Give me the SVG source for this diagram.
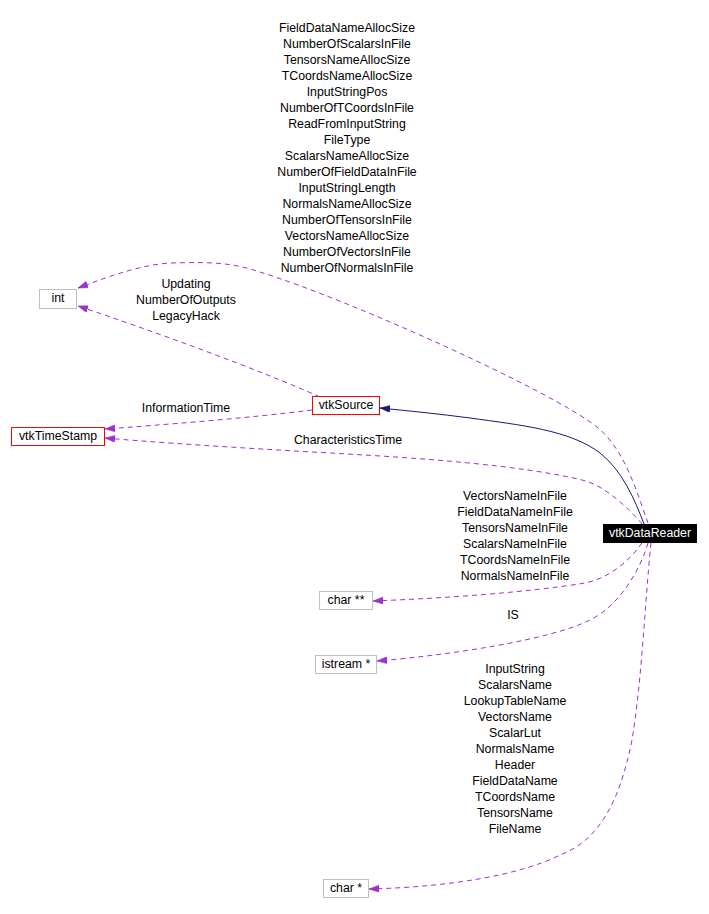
<svg xmlns="http://www.w3.org/2000/svg" width="709" height="914" viewBox="0 0 709 914">
<style>
text{font-family:"Liberation Sans",Arial,sans-serif;font-size:12.3px;fill:#000;text-anchor:middle}
.box{fill:#fff;stroke:#bfbfbf;stroke-width:1}
.red{fill:#fff;stroke:#ff0000;stroke-width:1}
.dash{fill:none;stroke:#9a32cd;stroke-width:1;stroke-dasharray:5,4}
.inh{fill:none;stroke:#191970;stroke-width:1}
</style>
<defs>
<marker id="ap" markerUnits="userSpaceOnUse" viewBox="0 0 10 7" refX="10" refY="3.5" markerWidth="10" markerHeight="7" orient="auto"><path d="M0,0 L10,3.5 L0,7 z" fill="#9a32cd" stroke="#9a32cd" stroke-width="0.5"/></marker>
<marker id="an" markerUnits="userSpaceOnUse" viewBox="0 0 10 7" refX="10" refY="3.5" markerWidth="10" markerHeight="7" orient="auto"><path d="M0,0 L10,3.5 L0,7 z" fill="#191970" stroke="#191970" stroke-width="0.5"/></marker>
</defs>
<rect width="709" height="914" fill="#fff"/>
<g id="connectors">
<path class="dash" marker-end="url(#ap)" d="M648,523 C636,490 625,450 597,427 C550,390 350,300 260,272 C230,262 210,262 170,263 C140,265 110,276 78,288"/>
<path class="inh" marker-end="url(#an)" d="M644,524 C635,500 622,470 600,453 C570,430 520,425 470,418 C440,414 410,411 380,408"/>
<path class="dash" marker-end="url(#ap)" d="M320,397 C260,370 150,330 78,306"/>
<path class="dash" marker-end="url(#ap)" d="M312,410 C250,418 160,425 105,429"/>
<path class="dash" marker-end="url(#ap)" d="M642,524 C630,510 605,485 582,480 C520,465 420,458 330,453 C240,448 150,442 105,438"/>
<path class="dash" marker-end="url(#ap)" d="M642,543 C630,560 610,578 585,583 C530,592 450,598 373,601"/>
<path class="dash" marker-end="url(#ap)" d="M648,543 C640,570 620,605 590,620 C550,640 450,655 377,661"/>
<path class="dash" marker-end="url(#ap)" d="M651,543 C645,600 642,680 632,740 C620,800 600,840 560,855 C520,875 450,887 369,889"/>
<g id="labels">
<text x="347" y="32">FieldDataNameAllocSize</text>
<text x="347" y="48">NumberOfScalarsInFile</text>
<text x="347" y="64">TensorsNameAllocSize</text>
<text x="347" y="80">TCoordsNameAllocSize</text>
<text x="347" y="96">InputStringPos</text>
<text x="347" y="112">NumberOfTCoordsInFile</text>
<text x="347" y="128">ReadFromInputString</text>
<text x="347" y="144">FileType</text>
<text x="347" y="160">ScalarsNameAllocSize</text>
<text x="347" y="176">NumberOfFieldDataInFile</text>
<text x="347" y="192">InputStringLength</text>
<text x="347" y="208">NormalsNameAllocSize</text>
<text x="347" y="224">NumberOfTensorsInFile</text>
<text x="347" y="240">VectorsNameAllocSize</text>
<text x="347" y="256">NumberOfVectorsInFile</text>
<text x="347" y="272">NumberOfNormalsInFile</text>
<text x="186" y="288">Updating</text>
<text x="186" y="304">NumberOfOutputs</text>
<text x="186" y="320">LegacyHack</text>
<text x="186" y="412">InformationTime</text>
<text x="348" y="444">CharacteristicsTime</text>
<text x="515" y="499.5">VectorsNameInFile</text>
<text x="515" y="515.5">FieldDataNameInFile</text>
<text x="515" y="531.5">TensorsNameInFile</text>
<text x="515" y="547.5">ScalarsNameInFile</text>
<text x="515" y="563.5">TCoordsNameInFile</text>
<text x="515" y="579.5">NormalsNameInFile</text>
<text x="513" y="619">IS</text>
<text x="515" y="673">InputString</text>
<text x="515" y="689">ScalarsName</text>
<text x="515" y="705">LookupTableName</text>
<text x="515" y="721">VectorsName</text>
<text x="515" y="737">ScalarLut</text>
<text x="515" y="753">NormalsName</text>
<text x="515" y="769">Header</text>
<text x="515" y="785">FieldDataName</text>
<text x="515" y="801">TCoordsName</text>
<text x="515" y="817">TensorsName</text>
<text x="515" y="833">FileName</text>
</g>
</g>
<g id="int"><rect class="box" x="39.5" y="289.5" width="37" height="19"/><text x="58" y="302">int</text></g>
<g id="vtkTimeStamp"><rect class="red" x="11.5" y="427.5" width="93" height="18"/><text x="58" y="440">vtkTimeStamp</text></g>
<g id="vtkSource"><rect class="red" x="312.5" y="396.5" width="67" height="18"/><text x="346" y="409">vtkSource</text></g>
<g id="vtkDataReader"><rect x="603" y="524" width="94" height="19" fill="#000"/><text x="650" y="537" style="fill:#fff">vtkDataReader</text></g>
<g id="charpp"><rect class="box" x="319.5" y="591.5" width="53" height="18"/><text x="346" y="604">char **</text></g>
<g id="istream"><rect class="box" x="315.5" y="655.5" width="61" height="18"/><text x="346" y="668">istream *</text></g>
<g id="charp"><rect class="box" x="323.5" y="879.5" width="45" height="18"/><text x="346" y="892">char *</text></g>
</svg>
